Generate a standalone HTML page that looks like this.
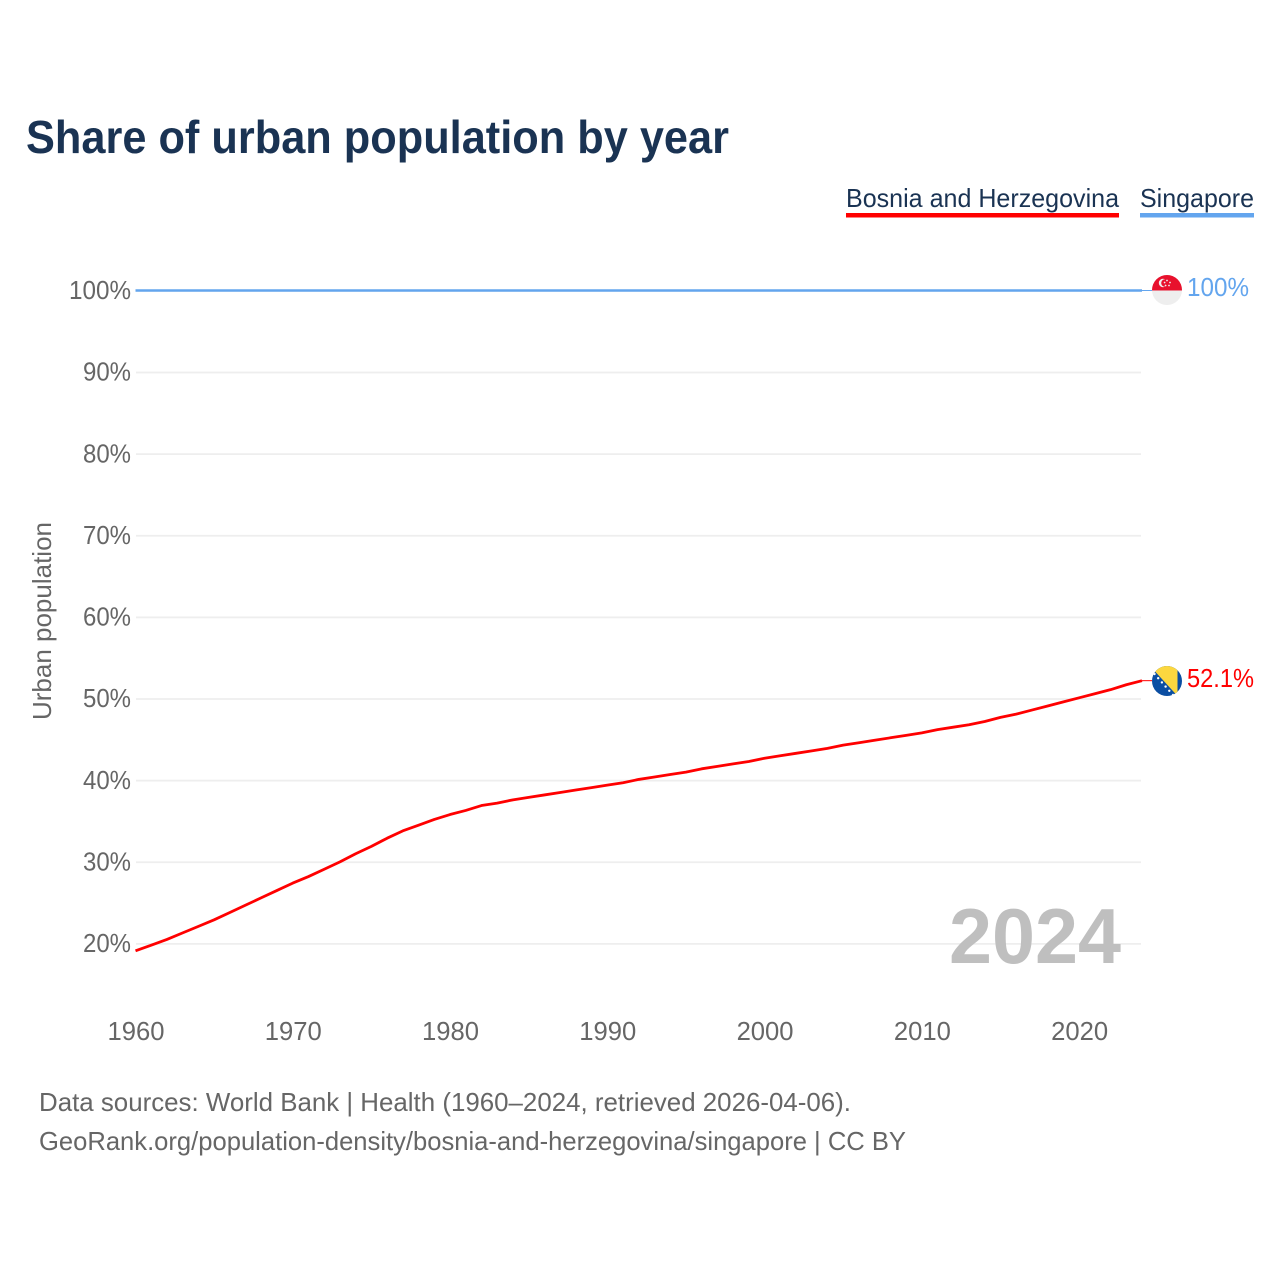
<!DOCTYPE html>
<html lang="en">
<head>
<meta charset="utf-8">
<title>Share of urban population by year</title>
<style>
html,body{margin:0;padding:0;background:#fff;width:1280px;height:1280px;overflow:hidden}
svg{display:block}
text{font-family:"Liberation Sans",sans-serif}
.tick{font-size:26px;fill:#666}
.foot{font-size:26px;fill:#666}
.legend{font-size:26px;fill:#1a3353}
</style>
</head>
<body>
<svg id="chart" xmlns="http://www.w3.org/2000/svg" width="1280" height="1280" viewBox="0 0 1280 1280">
  <defs>
    <clipPath id="clip-sg"><circle cx="1167" cy="290" r="15"/></clipPath>
    <clipPath id="clip-ba"><circle cx="1167" cy="681" r="15"/></clipPath>
  </defs>
  <rect x="0" y="0" width="1280" height="1280" fill="#ffffff"/>
  <text x="26" y="153" font-size="46" font-weight="700" fill="#1a3353" textLength="703" lengthAdjust="spacingAndGlyphs">Share of urban population by year</text>

  <g>
    <g>
      <text class="legend" x="846" y="207" textLength="273" lengthAdjust="spacingAndGlyphs">Bosnia and Herzegovina</text>
      <rect x="846" y="213" width="273" height="4.5" fill="#ff0000"/>
    </g>
    <g>
      <text class="legend" x="1140" y="207" textLength="114" lengthAdjust="spacingAndGlyphs">Singapore</text>
      <rect x="1140" y="213" width="114" height="4.5" fill="#63a5ee"/>
    </g>
  </g>

  <g id="grid"></g>
  <g id="yticks"></g>
  <g id="xticks"></g>

  <text transform="translate(51,720) rotate(-90)" font-size="26" fill="#666" textLength="198" lengthAdjust="spacingAndGlyphs">Urban population</text>

  <text x="949" y="963" font-size="78" font-weight="700" fill="#bfbfbf" textLength="172" lengthAdjust="spacingAndGlyphs">2024</text>

  <g id="series"></g>

  <g clip-path="url(#clip-sg)">
    <rect x="1152" y="275" width="30" height="30" fill="#eeeeee"/>
    <rect x="1152" y="275" width="30" height="15.5" fill="#e8112d"/>
    <circle cx="1163" cy="283" r="4.2" fill="#eeeeee"/>
    <circle cx="1165" cy="283" r="3.8" fill="#e8112d"/>
    <g fill="#eeeeee">
      <circle cx="1167" cy="280.5" r="0.9"/><circle cx="1170" cy="282.5" r="0.9"/><circle cx="1169" cy="285.5" r="0.9"/><circle cx="1165.6" cy="285.5" r="0.9"/><circle cx="1164.6" cy="282.5" r="0.9"/>
    </g>
  </g>
  <g clip-path="url(#clip-ba)">
    <rect x="1152" y="666" width="30" height="30" fill="#0b4ea2"/>
    <polygon points="1150,666 1177.5,666 1177.5,696" fill="#fcd73f"/>
    <g fill="#ffffff">
      <circle cx="1154.5" cy="674" r="1.2"/><circle cx="1158.2" cy="678.2" r="1.2"/><circle cx="1161.9" cy="682.4" r="1.2"/><circle cx="1165.6" cy="686.6" r="1.2"/><circle cx="1169.3" cy="690.8" r="1.2"/><circle cx="1173" cy="695" r="1.2"/>
    </g>
  </g>

  <text x="1187" y="296" font-size="26" fill="#63a5ee" textLength="62" lengthAdjust="spacingAndGlyphs">100%</text>
  <text x="1187" y="687" font-size="26" fill="#ff0000" textLength="67" lengthAdjust="spacingAndGlyphs">52.1%</text>

  <text class="foot" x="39" y="1111" textLength="812" lengthAdjust="spacingAndGlyphs">Data sources: World Bank | Health (1960–2024, retrieved 2026-04-06).</text>
  <text class="foot" x="39" y="1150" textLength="867" lengthAdjust="spacingAndGlyphs">GeoRank.org/population-density/bosnia-and-herzegovina/singapore | CC BY</text>
</svg>
<script>
const yTickValues = [20, 30, 40, 50, 60, 70, 80, 90, 100];
const xTickYears = [1960, 1970, 1980, 1990, 2000, 2010, 2020];
const years = [1960,1961,1962,1963,1964,1965,1966,1967,1968,1969,1970,1971,1972,1973,1974,1975,1976,1977,1978,1979,1980,1981,1982,1983,1984,1985,1986,1987,1988,1989,1990,1991,1992,1993,1994,1995,1996,1997,1998,1999,2000,2001,2002,2003,2004,2005,2006,2007,2008,2009,2010,2011,2012,2013,2014,2015,2016,2017,2018,2019,2020,2021,2022,2023,2024];
const bosniaValues = [19.1,19.8,20.5,21.3,22.1,22.9,23.8,24.7,25.6,26.5,27.4,28.2,29.1,30.0,31.0,31.9,32.9,33.8,34.5,35.2,35.8,36.3,36.9,37.2,37.6,37.9,38.2,38.5,38.8,39.1,39.4,39.7,40.1,40.4,40.7,41.0,41.4,41.7,42.0,42.3,42.7,43.0,43.3,43.6,43.9,44.3,44.6,44.9,45.2,45.5,45.8,46.2,46.5,46.8,47.2,47.7,48.1,48.6,49.1,49.6,50.1,50.6,51.1,51.7,52.2];
const singaporeValues = [100,100,100,100,100,100,100,100,100,100,100,100,100,100,100,100,100,100,100,100,100,100,100,100,100,100,100,100,100,100,100,100,100,100,100,100,100,100,100,100,100,100,100,100,100,100,100,100,100,100,100,100,100,100,100,100,100,100,100,100,100,100,100,100,100];

const SVG_NS = 'http://www.w3.org/2000/svg';
function xScale(year) { return 135.5 + (year - 1960) * (1142 - 135.5) / 64; }
function yScale(pct) { return 943.5 - (pct - 20) * (943.5 - 290.5) / 80; }
function pathFrom(values) {
  return values.map(function (v, i) {
    return (i ? 'L' : 'M') + xScale(years[i]).toFixed(2) + ' ' + yScale(v).toFixed(2);
  }).join(' ');
}

const gridGroup = document.getElementById('grid');
const yGroup = document.getElementById('yticks');
const xGroup = document.getElementById('xticks');
const seriesGroup = document.getElementById('series');

yTickValues.forEach(function (v) {
  const line = document.createElementNS(SVG_NS, 'line');
  
  
  line.setAttribute('x1', 136);
  line.setAttribute('x2', 1141);
  line.setAttribute('y1', yScale(v) + 0.4);
  line.setAttribute('y2', yScale(v) + 0.4);
  line.setAttribute('stroke', '#eeeeee');
  line.setAttribute('stroke-width', 1.7);
  gridGroup.appendChild(line);

  const label = document.createElementNS(SVG_NS, 'text');
  
  
  label.setAttribute('class', 'tick');
  label.setAttribute('x', v === 100 ? 69 : 83);
  label.setAttribute('y', yScale(v) + 8.5);
  label.setAttribute('textLength', v === 100 ? 62 : 48);
  label.setAttribute('lengthAdjust', 'spacingAndGlyphs');
  label.textContent = v + '%';
  yGroup.appendChild(label);
});

xTickYears.forEach(function (year) {
  const label = document.createElementNS(SVG_NS, 'text');
  
  
  label.setAttribute('class', 'tick');
  label.setAttribute('x', xScale(year) - 28);
  label.setAttribute('y', 1040);
  label.setAttribute('textLength', 57);
  label.setAttribute('lengthAdjust', 'spacingAndGlyphs');
  label.textContent = year;
  xGroup.appendChild(label);
});

const singaporeLine = document.createElementNS(SVG_NS, 'path');


singaporeLine.setAttribute('d', pathFrom(singaporeValues));
singaporeLine.setAttribute('fill', 'none');
singaporeLine.setAttribute('stroke', '#63a5ee');
singaporeLine.setAttribute('stroke-width', 2.5);
seriesGroup.appendChild(singaporeLine);

const bosniaLine = document.createElementNS(SVG_NS, 'path');


bosniaLine.setAttribute('d', pathFrom(bosniaValues));
bosniaLine.setAttribute('fill', 'none');
bosniaLine.setAttribute('stroke', '#ff0000');
bosniaLine.setAttribute('stroke-width', 2.8);
bosniaLine.setAttribute('stroke-linejoin', 'round');
seriesGroup.appendChild(bosniaLine);

const singaporeConnector = document.createElementNS(SVG_NS, 'line');


singaporeConnector.setAttribute('x1', xScale(2024));
singaporeConnector.setAttribute('x2', 1152);
singaporeConnector.setAttribute('y1', yScale(singaporeValues[singaporeValues.length - 1]));
singaporeConnector.setAttribute('y2', yScale(singaporeValues[singaporeValues.length - 1]));
singaporeConnector.setAttribute('stroke', '#63a5ee');
singaporeConnector.setAttribute('stroke-width', 1);
seriesGroup.appendChild(singaporeConnector);

const bosniaConnector = document.createElementNS(SVG_NS, 'line');


bosniaConnector.setAttribute('x1', xScale(2024));
bosniaConnector.setAttribute('x2', 1152);
bosniaConnector.setAttribute('y1', yScale(bosniaValues[bosniaValues.length - 1]));
bosniaConnector.setAttribute('y2', yScale(bosniaValues[bosniaValues.length - 1]));
bosniaConnector.setAttribute('stroke', '#ff0000');
bosniaConnector.setAttribute('stroke-width', 1);
seriesGroup.appendChild(bosniaConnector);
</script>
</body>
</html>
